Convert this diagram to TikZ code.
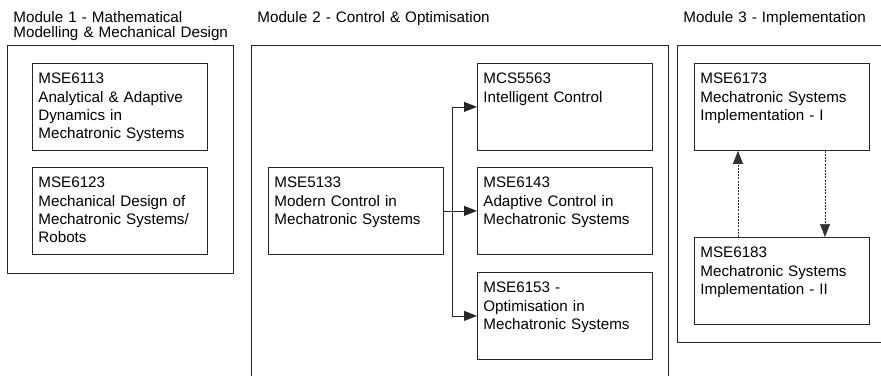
\documentclass[tikz,border=0pt]{standalone}
\usepackage{fontspec}
\setmainfont{Liberation Sans}
\usetikzlibrary{arrows.meta}

\begin{document}
\begin{tikzpicture}[
        x=1pt, y=-1pt,
        line width=0.8pt,
        font=\fontsize{15.2}{18.3}\selectfont,
        >={Triangle[length=13pt,width=10pt]},
        module/.style={
            draw=black!85,
            anchor=north west,
            inner sep=0pt
        },
        title/.style={
            anchor=base west,
            inner sep=0pt,
            text width=240pt,
            align=left,
            font=\fontsize{15.2}{15}\selectfont
        },
        course/.style={
            draw=black!85,
            anchor=north west,
            text width=163pt,
            inner xsep=6pt,
            inner ysep=6pt,
            text height=14.3pt,
            text depth=60.7pt,
            align=left
        },
        wire/.style={draw=black!85},
        link/.style={draw=black!80, dash pattern=on 2pt off 1.2pt, line width=0.7pt}
    ]

    \useasboundingbox (0,0) rectangle (881,375);
    \clip (0,0) rectangle (881,375);

    % module frames
    \node[module, minimum width=226pt, minimum height=228pt] (mod1) at (7,45) {};
    \node[module, minimum width=417pt, minimum height=360pt] (mod2) at (251,45) {};
    \node[module, minimum width=250pt, minimum height=297pt] (mod3) at (677,45) {};

    \node[title] (t1) at (13,22.3)
        {Module 1 - Mathematical\\Modelling \& Mechanical Design};
    \node[title] (t2) at (257,22)
        {Module 2 - Control \& Optimisation};
    \node[title] (t3) at (683,22)
        {Module 3 - Implementation};

    % module 1
    \node[course] (dyn) at (32,63)
        {MSE6113\\Analytical \& Adaptive\\Dynamics in\\Mechatronic Systems};
    \node[course] (mech) at (32,167)
        {MSE6123\\Mechanical Design of\\Mechatronic Systems/\\Robots};

    % module 2
    \node[course] (modern) at (268,167)
        {MSE5133\\Modern Control in\\Mechatronic Systems};
    \node[course] (intel) at (477,63)
        {MCS5563\\Intelligent Control};
    \node[course] (adapt) at (477,167)
        {MSE6143\\Adaptive Control in\\Mechatronic Systems};
    \node[course] (optim) at (477,272)
        {MSE6153 -\\Optimisation in\\Mechatronic Systems};

    \draw[wire, ->] (modern) -- (adapt);
    \draw[wire, ->] (modern.east) -- ++(9,0) |- (intel.west);
    \draw[wire, ->] (modern.east) -- ++(9,0) |- (optim.west);

    % module 3
    \node[course] (impl1) at (694,63)
        {MSE6173\\Mechatronic Systems\\Implementation - I};
    \node[course] (impl2) at (694,237)
        {MSE6183\\Mechatronic Systems\\Implementation - II};

    \draw[link, ->] ([xshift=44pt]impl2.north west) -- ([xshift=44pt]impl1.south west);
    \draw[link, ->] ([xshift=131pt]impl1.south west) -- ([xshift=131pt]impl2.north west);

\end{tikzpicture}
\end{document}
